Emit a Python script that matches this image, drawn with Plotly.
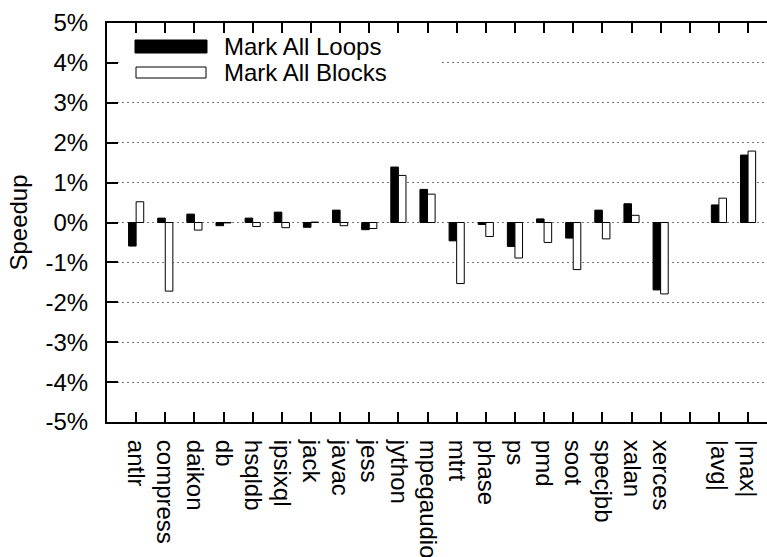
import plotly.graph_objects as go

# Benchmarks (an empty slot separates the per-benchmark bars from the summary bars)
benchmarks = ["antlr", "compress", "daikon", "db", "hsqldb", "ipsixql", "jack",
              "javac", "jess", "jython", "mpegaudio", "mtrt", "phase", "ps",
              "pmd", "soot", "specjbb", "xalan", "xerces", "", "|avg|", "|max|"]

# Speedup in percent
mark_all_loops = [-0.59, 0.11, 0.21, -0.08, 0.11, 0.26, -0.12, 0.31, -0.18, 1.39,
                  0.83, -0.46, -0.05, -0.60, 0.09, -0.39, 0.31, 0.47, -1.69, None,
                  0.44, 1.69]
mark_all_blocks = [0.52, -1.72, -0.19, -0.01, -0.10, -0.13, 0.01, -0.08, -0.15, 1.18,
                   0.71, -1.53, -0.35, -0.89, -0.50, -1.18, -0.41, 0.18, -1.79, None,
                   0.61, 1.79]

y_ticks = [-5, -4, -3, -2, -1, 0, 1, 2, 3, 4, 5]
y_tick_labels = ["-5%", "-4%", "-3%", "-2%", "-1%", "0%", "1%", "2%", "3%", "4%", "5%"]

series_names = ["Mark All Loops", "Mark All Blocks"]

FONT = "Liberation Sans, Arial, Helvetica, sans-serif"
W, H = 767, 557
ML, MR, MT, MB = 107, 0, 23, 135

positions = list(range(len(benchmarks)))

fig = go.Figure()
fig.add_trace(go.Bar(x=positions, y=mark_all_loops, name=series_names[0],
                     marker=dict(color="black", line=dict(color="black", width=1)),
                     showlegend=False))
fig.add_trace(go.Bar(x=positions, y=mark_all_blocks, name=series_names[1],
                     marker=dict(color="white", line=dict(color="black", width=1)),
                     showlegend=False))

# pixel -> paper helpers for the hand-drawn key
pw, ph = W - ML - MR, H - MT - MB
def px(x):
    return (x - ML) / pw
def py(y):
    return (H - MB - y) / ph

shapes = [
    dict(type="rect", xref="paper", yref="paper", layer="above",
         x0=px(119), x1=px(440), y0=py(90), y1=py(35),
         fillcolor="white", line=dict(width=0)),
    dict(type="rect", xref="paper", yref="paper", layer="above",
         x0=px(135), x1=px(207), y0=py(53), y1=py(40),
         fillcolor="black", line=dict(color="black", width=1)),
    dict(type="rect", xref="paper", yref="paper", layer="above",
         x0=px(136), x1=px(206), y0=py(78), y1=py(67),
         fillcolor="white", line=dict(color="black", width=1)),
]
annotations = [
    dict(xref="paper", yref="paper", x=px(222), y=py(y), text=t,
         xanchor="left", yanchor="middle", showarrow=False,
         font=dict(family=FONT, size=24, color="black"))
    for t, y in zip(series_names, [46.5, 72.5])
]

fig.update_layout(
    width=W, height=H,
    margin=dict(l=ML, r=MR, t=MT, b=MB, pad=0, autoexpand=False),
    paper_bgcolor="white", plot_bgcolor="white",
    barmode="group", bargap=0.48, bargroupgap=0,
    font=dict(family=FONT, size=24, color="black"),
    shapes=shapes, annotations=annotations,
    showlegend=False,
)
fig.update_xaxes(
    range=[-1.0, 21.65], automargin=False,
    tickmode="array", tickvals=positions, ticktext=benchmarks,
    tickangle=90, ticks="inside", ticklen=10, tickwidth=1.5, tickcolor="black",
    showline=True, linecolor="black", linewidth=2, mirror="ticks",
    showgrid=False, zeroline=False, ticklabelstandoff=11,
    tickfont=dict(family=FONT, size=24, color="black"),
)
fig.update_yaxes(
    range=[-5, 5], automargin=False,
    tickmode="array", tickvals=y_ticks, ticktext=y_tick_labels,
    ticks="inside", ticklen=11, tickwidth=1.5, tickcolor="black",
    showline=True, linecolor="black", linewidth=2, mirror=False,
    showgrid=True, gridcolor="#777777", gridwidth=1.2, griddash="1.5px,3.5px",
    zeroline=False, ticklabelstandoff=12,
    tickfont=dict(family=FONT, size=24, color="black"),
    title=dict(text="Speedup", standoff=11, font=dict(family=FONT, size=24, color="black")),
)

fig.write_html("out.html")
